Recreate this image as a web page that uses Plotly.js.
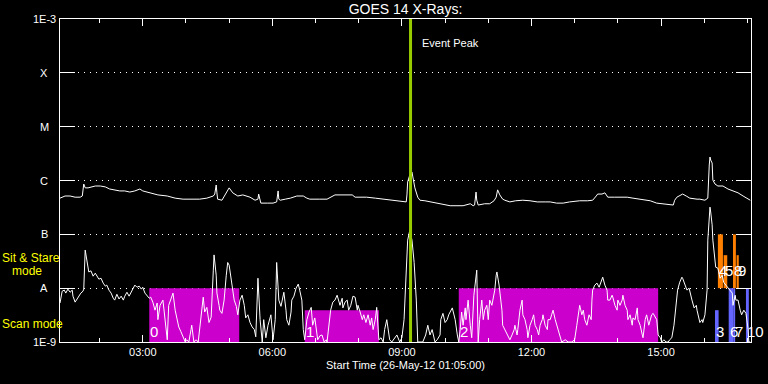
<!DOCTYPE html>
<html><head><meta charset="utf-8">
<script src="https://cdn.plot.ly/plotly-3.0.1.min.js"></script>
<style>html,body{margin:0;padding:0;background:#000;}#chart{width:768px;height:384px;}</style>
</head><body><div id="chart"></div>
<script>
// ---- data ----
const startDay = '2012-05-26';
const startClock = '01:05:00';
const endClock = '17:05:00';

// long channel (1-8 A): minutes since start, flux W/m^2
const upMin = [0,7,14,21,28,31,33,35,39,49,
56,63,69,76,83,90,97,104,111,115,
125,136,149,160,171,183,194,204,213,215,
217,218,219,225,229,235,240,247,254,264,
271,275,276,278,279,288,296,301,303,304,
306,313,320,329,338,343,347,361,371,382,
393,406,410,426,438,449,461,472,481,482,
483,486,489,490,493,497,500,507,514,528,
542,560,565,570,574,576,578,579,581,590,
597,603,606,608,611,615,618,625,633,643,
653,663,674,681,690,699,708,722,733,740,
745,747,753,757,760,761,770,778,788,796,
806,820,829,838,847,852,854,857,860,865,
870,875,885,889,896,899,900,902,903,904,
906,907,910,914,921,928,935,942,949,954,
959];
const upFlux = [4.7e-7,5.15e-7,5.15e-7,4.9e-7,4.9e-7,5.15e-7,8.6e-7,7.3e-7,7.3e-7,7.9e-7,
7.9e-7,7.6e-7,6.95e-7,6.7e-7,6.4e-7,6.4e-7,6.1e-7,6.4e-7,6.95e-7,6.4e-7,
5.9e-7,5.4e-7,5.15e-7,4.7e-7,4.5e-7,4.5e-7,4.5e-7,4.7e-7,5.15e-7,5.6e-7,
8.25e-7,5.9e-7,4.5e-7,4.3e-7,5.4e-7,7.3e-7,5.9e-7,5.15e-7,5.4e-7,4.9e-7,
4.3e-7,4.5e-7,5.6e-7,4.3e-7,3.8e-7,3.8e-7,3.8e-7,4.0e-7,6.4e-7,4.5e-7,
4.3e-7,4.5e-7,4.7e-7,5.15e-7,5.15e-7,4.7e-7,4.5e-7,4.5e-7,4.5e-7,5.4e-7,
5.4e-7,5.4e-7,4.9e-7,4.9e-7,4.7e-7,4.5e-7,4.3e-7,4.2e-7,4.0e-7,5.4e-7,
9.4e-7,1.27e-6,1.44e-6,1.21e-6,7.3e-7,4.9e-7,4.3e-7,4.2e-7,4.0e-7,3.7e-7,
3.4e-7,3.4e-7,3.5e-7,3.7e-7,3.4e-7,3.5e-7,6.1e-7,4.3e-7,3.5e-7,3.7e-7,
3.7e-7,4.2e-7,4.9e-7,6.7e-7,5.4e-7,4.5e-7,4.3e-7,4.0e-7,4.2e-7,4.3e-7,
4.2e-7,4.0e-7,4.0e-7,4.0e-7,3.8e-7,3.8e-7,4.0e-7,4.2e-7,4.2e-7,4.3e-7,
5.15e-7,5.6e-7,5.6e-7,5.9e-7,5.15e-7,4.9e-7,4.9e-7,4.9e-7,4.9e-7,4.7e-7,
4.5e-7,4.2e-7,3.8e-7,3.7e-7,3.5e-7,3.5e-7,4.3e-7,4.9e-7,5.15e-7,5.6e-7,
5.15e-7,4.7e-7,4.5e-7,4.5e-7,4.3e-7,4.5e-7,4.7e-7,1.94e-6,2.73e-6,2.4e-6,
2.11e-6,1.02e-6,8.6e-7,7.9e-7,7.9e-7,6.95e-7,6.4e-7,5.9e-7,5.15e-7,4.7e-7,
4.3e-7];

// short channel (0.5-4 A): minutes since start, flux W/m^2
const lowMin = [0,3,6,8,11,14,17,18,21,24,
26,29,32,33,35,36,38,40,43,46,
49,51,54,57,60,63,65,68,71,74,
76,79,82,85,88,90,93,96,99,101,
104,107,110,113,115,118,121,124,126,129,
132,135,136,139,143,146,149,151,154,157,
160,163,165,168,171,174,176,179,182,183,
186,189,192,194,197,199,201,204,207,210,
213,214,217,218,221,222,225,228,231,233,
235,238,239,242,245,247,250,253,256,258,
261,264,267,270,272,275,278,281,283,286,
289,292,293,296,299,301,303,304,307,310,
311,314,315,318,321,322,325,328,331,333,
336,338,340,343,346,349,351,354,356,358,
361,364,367,370,371,374,376,379,382,385,
388,389,392,393,396,399,401,404,407,410,
413,414,417,420,422,425,428,431,433,435,
438,440,443,446,449,451,454,456,458,461,
465,468,472,475,478,479,482,483,486,489,
492,495,497,502,504,508,511,514,517,521,
524,528,529,532,535,538,540,545,547,549,
552,554,556,558,560,563,564,567,570,572,
575,577,579,581,583,586,588,590,593,595,
597,600,602,604,606,607,610,611,614,615,
618,621,624,625,628,631,632,635,636,639,
642,643,646,649,650,653,656,658,660,663,
665,667,670,671,674,677,678,681,683,685,
688,690,692,695,697,702,706,711,715,718,
721,722,725,727,729,732,735,738,739,740,
743,746,749,750,753,754,757,760,761,764,
767,768,771,774,775,778,781,782,785,788,
789,792,795,796,799,802,803,806,809,810,
813,815,818,820,822,824,827,829,831,834,
836,839,842,845,847,850,853,856,858,861,
864,865,868,871,874,877,878,881,884,885,
888,889,892,893,896,899,900,902,903,904,
906,907,910,911,914,917,920,922,925,928,
931,934,935,938,939,942,945,947,950,953,
956,957,959];
const lowFlux = [5.3e-9,8.8e-9,9.2e-9,8.1e-9,9.6e-9,8.4e-9,9.2e-9,7.1e-9,5.5e-9,6.5e-9,
7.1e-9,8.1e-9,8.8e-9,9.6e-9,5.1e-8,4.15e-8,2.9e-8,2.0e-8,2.1e-8,1.67e-8,
1.9e-8,1.67e-8,1.47e-8,1.53e-8,1.24e-8,1.09e-8,1.14e-8,9.2e-9,8.1e-9,6.5e-9,
6.0e-9,7.7e-9,6.3e-9,7.1e-9,6.0e-9,7.1e-9,8.4e-9,7.1e-9,8.4e-9,9.6e-9,
1.14e-8,1.04e-8,1.09e-8,9.6e-9,1.04e-8,8.1e-9,7.1e-9,6.5e-9,6.8e-9,5.5e-9,
3.9e-9,5.3e-9,2.6e-9,4.8e-9,6.0e-9,2.8e-9,1.1e-9,4.8e-9,6.5e-9,8.1e-9,
3.9e-9,2.6e-9,1.9e-9,1.55e-9,1.25e-9,1.0e-9,1.1e-9,1.0e-9,1.7e-9,2.05e-9,
1.0e-9,1.1e-9,1.0e-9,1.9e-9,4.8e-9,6.8e-9,3.6e-9,4.4e-9,2.3e-9,2.9e-9,
2.16e-8,4.15e-8,1.74e-8,8.1e-9,4.8e-9,3.9e-9,3.4e-9,6.0e-9,1.74e-8,3.0e-8,
2.67e-8,1.41e-8,1.04e-8,6.0e-9,4.6e-9,3.2e-9,6.0e-9,7.4e-9,4.8e-9,2.8e-9,
3.2e-9,2.3e-9,1.9e-9,1.7e-9,1.25e-9,1.53e-8,2.6e-9,1.0e-9,2.6e-9,1.2e-9,
2.05e-9,2.8e-9,3.2e-9,1.1e-9,2.6e-9,3.0e-8,1.14e-8,6.0e-9,4.6e-9,7.4e-9,
8.4e-9,3.9e-9,2.6e-9,2.05e-9,3.6e-9,6.0e-9,7.1e-9,1.0e-8,1.19e-8,9.2e-9,
6.0e-9,1.7e-9,1.1e-9,2.6e-9,3.6e-9,4.4e-9,2.05e-9,2.8e-9,1.7e-9,1.1e-9,
1.3e-9,1.35e-9,1.0e-9,1.1e-9,1.0e-9,2.6e-9,3.9e-9,5.5e-9,6.0e-9,7.4e-9,
5.3e-9,4.8e-9,6.5e-9,4.3e-9,5.5e-9,6.0e-9,3.9e-9,4.8e-9,7.1e-9,6.8e-9,
3.9e-9,4.8e-9,3.6e-9,2.6e-9,3.2e-9,2.3e-9,3.2e-9,2.05e-9,2.8e-9,1.7e-9,
2.6e-9,4.4e-9,1.1e-9,1.2e-9,1.0e-9,1.7e-9,2.6e-9,1.7e-9,1.1e-9,1.0e-9,
1.2e-9,1.35e-9,1.0e-9,1.2e-9,2.6e-9,6.0e-9,4.15e-8,7.8e-8,1.19e-7,7.8e-8,
3.0e-8,6.0e-9,1.0e-9,1.0e-9,1.0e-9,1.35e-9,2.05e-9,1.35e-9,1.7e-9,1.0e-9,
1.1e-9,1.35e-9,2.6e-9,3.4e-9,2.3e-9,2.6e-9,3.2e-9,4.3e-9,3.2e-9,2.6e-9,
1.35e-9,1.0e-9,1.7e-9,3.6e-9,2.05e-9,4.3e-9,2.6e-9,6.0e-9,2.05e-9,1.2e-9,
7.4e-9,1.41e-8,2.16e-8,1.0e-9,2.6e-9,6.0e-9,2.6e-9,3.9e-9,4.8e-9,2.6e-9,
6.0e-9,4.8e-9,6.5e-9,9.2e-9,1.74e-8,2.0e-8,1.14e-8,9.2e-9,3.9e-9,2.05e-9,
1.7e-9,1.35e-9,1.2e-9,1.1e-9,1.35e-9,1.7e-9,2.05e-9,1.35e-9,1.7e-9,3.9e-9,
6.0e-9,3.2e-9,2.6e-9,1.7e-9,1.2e-9,2.05e-9,2.6e-9,3.2e-9,2.05e-9,1.7e-9,
1.35e-9,2.05e-9,2.6e-9,3.2e-9,2.05e-9,1.7e-9,2.6e-9,2.6e-9,3.2e-9,3.9e-9,
2.6e-9,2.05e-9,1.7e-9,1.2e-9,1.0e-9,1.1e-9,1.0e-9,1.0e-9,1.1e-9,2.05e-9,
3.9e-9,4.8e-9,3.2e-9,3.9e-9,2.6e-9,2.05e-9,3.2e-9,2.6e-9,6.0e-9,9.2e-9,
1.14e-8,1.24e-8,1.04e-8,1.14e-8,1.41e-8,1.6e-8,1.14e-8,9.2e-9,6.0e-9,6.0e-9,
7.4e-9,6.8e-9,4.8e-9,3.9e-9,6.0e-9,4.8e-9,6.0e-9,7.4e-9,4.8e-9,3.9e-9,
2.6e-9,3.2e-9,2.05e-9,2.8e-9,2.6e-9,4.3e-9,2.6e-9,2.05e-9,1.35e-9,1.2e-9,
2.6e-9,3.2e-9,2.05e-9,2.6e-9,3.2e-9,3.4e-9,2.8e-9,2.6e-9,1.35e-9,1.2e-9,
1.0e-9,1.1e-9,1.0e-9,1.0e-9,1.1e-9,1.2e-9,2.05e-9,6.0e-9,9.2e-9,1.29e-8,
1.6e-8,1.53e-8,1.14e-8,9.2e-9,1.0e-8,6.5e-9,6.0e-9,4.3e-9,4.8e-9,3.9e-9,
2.8e-9,2.3e-9,2.6e-9,2.3e-9,3.2e-9,9.2e-9,7.8e-8,2.3e-7,3.2e-7,2.6e-7,
1.5e-7,7.8e-8,3.0e-8,2.45e-8,2.35e-8,1.53e-8,1.74e-8,1.29e-8,1.14e-8,1.0e-8,
9.2e-9,8.1e-9,4.8e-9,7.4e-9,6.0e-9,6.0e-9,3.9e-9,3.2e-9,3.9e-9,3.4e-9,
1.7e-9,1.0e-9,1.0e-9];

// y axis decades and GOES class labels
const yTickVals = [1e-9, 1e-8, 1e-7, 1e-6, 1e-5, 1e-4, 1e-3];
const yTickText = ['1E-9', 'A', 'B', 'C', 'M', 'X', '1E-3'];
const yFloor = 1e-9;

// raster scan intervals (magenta)
const scanStart = ['03:09', '06:45', '10:19'];
const scanEnd   = ['05:14', '08:28', '14:56'];
const scanTop   = [1e-8, 3.9e-9, 1e-8];
const scanLabel = ['0', '1', '2'];

// later scan intervals (blue)
const scan2Start = ['16:15', '16:34', '16:41', '16:58'];
const scan2End   = ['16:20', '16:41', '16:43', '17:02'];
const scan2Top   = [3.9e-9, 1e-8, 1e-8, 1e-8];
const scan2Label = ['3', '6', '7', '10'];

// sit & stare intervals (orange)
const ssStart = ['16:19', '16:27', '16:40', '16:45'];
const ssEnd   = ['16:26', '16:32', '16:44', '16:48'];
const ssTop   = [1e-7, 4.1e-8, 1e-7, 4.1e-8];
const ssBase  = 1e-8;
const ssLabel = ['4', '5', '8', '9'];

const eventPeak = '09:12';

// ---- helpers ----
const pad = n => String(n).padStart(2, '0');
function fromStart(min) {
  const s0 = 1 * 3600 + 5 * 60;
  const t = Math.round(s0 + min * 60);
  return `${startDay} ${pad(Math.floor(t / 3600))}:${pad(Math.floor(t % 3600 / 60))}:${pad(t % 60)}`;
}
const clock = hm => `${startDay} ${hm}:00`;

const traces = [];
function rects(starts, ends, bases, tops, color) {
  for (let i = 0; i < starts.length; i++) {
    const s = clock(starts[i]), e = clock(ends[i]);
    const b = Array.isArray(bases) ? bases[i] : bases;
    traces.push({
      x: [s, s, e, e, s], y: [b, tops[i], tops[i], b, b],
      mode: 'lines', fill: 'toself', fillcolor: color,
      line: {width: 0, color: color}, hoverinfo: 'skip'
    });
  }
}
rects(scanStart, scanEnd, yFloor, scanTop, '#cc00cc');
rects(scan2Start, scan2End, yFloor, scan2Top, '#6464ff');
rects(ssStart, ssEnd, ssBase, ssTop, '#ff7f00');

traces.push({x: upMin.map(fromStart), y: upFlux, mode: 'lines', line: {color: '#ffffff', width: 1}});
traces.push({x: lowMin.map(fromStart), y: lowFlux, mode: 'lines', line: {color: '#ffffff', width: 1}});
traces.push({x: [clock(eventPeak), clock(eventPeak)], y: [yTickVals[0], yTickVals[yTickVals.length - 1]],
  mode: 'lines', line: {color: '#99cc00', width: 3}});

const ann = [];
const lab = {family: 'Liberation Sans, Arial, sans-serif', color: '#ffffff', size: 11};
yTickVals.forEach((v, i) => ann.push({xref: 'paper', x: 0, xshift: -16, xanchor: 'center',
  yref: 'y', y: Math.log10(v), yanchor: 'middle', text: yTickText[i], showarrow: false, font: lab}));
const yel = {family: 'Liberation Sans, Arial, sans-serif', color: '#ffff00', size: 12};
ann.push({xref: 'paper', x: 0, xshift: -60, xanchor: 'left', yref: 'paper', y: 0.26, yanchor: 'middle', text: 'Sit & Stare', showarrow: false, font: yel});
ann.push({xref: 'paper', x: 0, xshift: -50, xanchor: 'left', yref: 'paper', y: 0.22, yanchor: 'middle', text: 'mode', showarrow: false, font: yel});
ann.push({xref: 'paper', x: 0, xshift: -60, xanchor: 'left', yref: 'paper', y: 0.056, yanchor: 'middle', text: 'Scan mode', showarrow: false, font: yel});
ann.push({xref: 'x', x: clock(eventPeak), xshift: 9, xanchor: 'left', yref: 'paper', y: 0.926, yanchor: 'middle', text: 'Event Peak', showarrow: false, font: lab});
const big = {family: 'Liberation Sans, Arial, sans-serif', color: '#ffffff', size: 15};
function labels(starts, texts, yp) {
  starts.forEach((s, i) => ann.push({xref: 'x', x: clock(s), xanchor: 'left', xshift: -1, yref: 'paper', y: yp, yanchor: 'middle', text: texts[i], showarrow: false, font: big}));
}
labels(scanStart, scanLabel, 0.031);
labels(scan2Start, scan2Label, 0.031);
labels(ssStart, ssLabel, 0.22);

const layout = {
  width: 768, height: 384,
  paper_bgcolor: '#000', plot_bgcolor: '#000',
  margin: {l: 60, r: 17, t: 19, b: 42, pad: 0},
  showlegend: false,
  font: {family: 'Liberation Sans, Arial, sans-serif', color: '#ffffff', size: 11},
  title: {text: 'GOES 14 X-Rays:', font: {size: 14, color: '#ffffff'}, x: 0.5, xref: 'paper', xanchor: 'center', y: 0.977, yref: 'container', yanchor: 'middle'},
  xaxis: {
    type: 'date', range: [`${startDay} ${startClock}`, `${startDay} ${endClock}`],
    tick0: `${startDay} 03:00:00`, dtick: 3 * 3600000, tickformat: '%H:%M',
    ticks: 'inside', ticklen: 7, tickcolor: '#ffffff', tickwidth: 1,
    showline: true, linecolor: '#ffffff', linewidth: 1, mirror: 'ticks',
    showgrid: false, zeroline: false,
    minor: {dtick: 3600000, tick0: `${startDay} 03:00:00`, ticks: 'inside', ticklen: 4, tickcolor: '#ffffff', showgrid: false},
    tickfont: {size: 11, color: '#ffffff'},
    title: {text: 'Start Time (26-May-12 01:05:00)', font: {size: 11, color: '#ffffff'}, standoff: 4}
  },
  yaxis: {
    type: 'log', range: [-9, -3], tickvals: yTickVals,
    ticks: 'inside', ticklen: 15, tickcolor: '#ffffff', tickwidth: 1,
    showticklabels: false, showline: true, linecolor: '#ffffff', linewidth: 1, mirror: 'ticks',
    showgrid: true, gridcolor: '#ffffff', gridwidth: 1, griddash: '1px,5px', zeroline: false
  },
  annotations: ann
};
Plotly.newPlot('chart', traces, layout, {displayModeBar: false, staticPlot: true});
</script></body></html>
